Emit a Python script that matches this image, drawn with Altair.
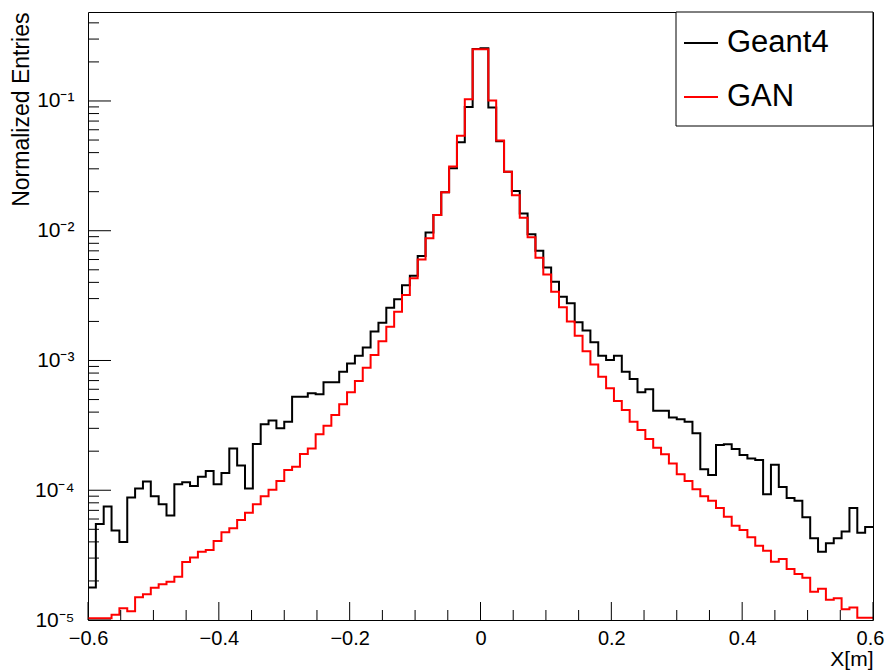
import altair as alt
import numpy as np
import pandas as pd

# ---------------- data ----------------
series_names = ["Geant4", "GAN"]
series_colors = ["#000000", "#ff0000"]

x_min, x_max, n_bins = -0.6, 0.6, 100

geant4 = [
    1.78e-5, 5.5e-5, 7.5e-5, 4.9e-5, 4.0e-5, 8.8e-5, 1.03e-4, 1.17e-4, 9.0e-5, 7.8e-5,
    6.4e-5, 1.11e-4, 1.15e-4, 1.08e-4, 1.27e-4, 1.41e-4, 1.11e-4, 1.36e-4, 2.1e-4, 1.55e-4,
    1.03e-4, 2.27e-4, 3.22e-4, 3.44e-4, 3.0e-4, 3.37e-4, 5.26e-4, 5.26e-4, 5.6e-4, 5.5e-4,
    6.8e-4, 6.8e-4, 8.2e-4, 9.5e-4, 1.09e-3, 1.26e-3, 1.67e-3, 1.95e-3, 2.55e-3, 2.96e-3,
    3.8e-3, 4.5e-3, 6.4e-3, 9.7e-3, 1.32e-2, 1.98e-2, 3.03e-2, 4.8e-2, 9.0e-2, 0.252,
    0.255, 8.9e-2, 4.9e-2, 2.85e-2, 2.02e-2, 1.36e-2, 9.4e-3, 7.0e-3, 5.2e-3, 4.05e-3,
    3.1e-3, 2.76e-3, 1.97e-3, 1.7e-3, 1.38e-3, 1.09e-3, 1.01e-3, 1.09e-3, 8.2e-4, 7.2e-4,
    5.7e-4, 6.0e-4, 4.1e-4, 4.1e-4, 3.63e-4, 3.52e-4, 3.37e-4, 2.75e-4, 1.45e-4, 1.31e-4,
    2.23e-4, 2.26e-4, 2.08e-4, 1.87e-4, 1.76e-4, 1.71e-4, 9.3e-5, 1.57e-4, 1.06e-4, 8.7e-5,
    8.3e-5, 6.2e-5, 4.27e-5, 3.36e-5, 3.9e-5, 4.27e-5, 4.8e-5, 7.3e-5, 4.7e-5, 5.2e-5,
]

gan = [
    1.03e-5, 1.03e-5, 1.03e-5, 1.1e-5, 1.23e-5, 1.17e-5, 1.5e-5, 1.58e-5, 1.77e-5, 1.89e-5,
    1.97e-5, 2.15e-5, 2.8e-5, 3.03e-5, 3.36e-5, 3.46e-5, 4.06e-5, 4.74e-5, 5.09e-5, 5.9e-5,
    6.7e-5, 7.8e-5, 9.0e-5, 1.01e-4, 1.18e-4, 1.43e-4, 1.52e-4, 1.9e-4, 2.1e-4, 2.7e-4,
    3.14e-4, 3.8e-4, 4.6e-4, 5.7e-4, 6.95e-4, 8.8e-4, 1.1e-3, 1.41e-3, 1.82e-3, 2.38e-3,
    3.2e-3, 4.3e-3, 6.0e-3, 8.75e-3, 1.32e-2, 1.98e-2, 3.12e-2, 5.4e-2, 0.103, 0.25,
    0.25, 0.101, 4.95e-2, 2.85e-2, 1.88e-2, 1.26e-2, 8.9e-3, 6.2e-3, 4.6e-3, 3.39e-3,
    2.57e-3, 2.0e-3, 1.55e-3, 1.18e-3, 9.3e-4, 7.5e-4, 6.1e-4, 4.87e-4, 4.15e-4, 3.37e-4,
    2.91e-4, 2.48e-4, 2.13e-4, 1.89e-4, 1.61e-4, 1.33e-4, 1.18e-4, 1.02e-4, 9.0e-5, 8.3e-5,
    7.3e-5, 6.25e-5, 5.33e-5, 4.94e-5, 4.34e-5, 3.74e-5, 3.42e-5, 2.81e-5, 2.95e-5, 2.47e-5,
    2.26e-5, 2.12e-5, 1.65e-5, 1.74e-5, 1.43e-5, 1.47e-5, 1.21e-5, 1.25e-5, 1.04e-5, 1.04e-5,
]

x_major_ticks = [-0.6, -0.4, -0.2, 0.0, 0.2, 0.4, 0.6]
x_minor_ticks = [-0.55, -0.5, -0.45, -0.35, -0.3, -0.25, -0.15, -0.1, -0.05,
                 0.05, 0.1, 0.15, 0.25, 0.3, 0.35, 0.45, 0.5, 0.55]
y_major_ticks = [1e-5, 1e-4, 1e-3, 1e-2, 1e-1]
y_minor_ticks = [k * 10.0 ** d for d in range(-5, 0) for k in range(2, 10) if k * 10.0 ** d < 0.48]

y_max = 0.485

# ---------------- table built from the arrays ----------------
edges = np.linspace(x_min, x_max, n_bins + 1)
rows = []
for name, vals in zip(series_names, [geant4, gan]):
    for i in range(n_bins):
        rows.append({"x": float(edges[i]), "y": vals[i], "series": name})
    rows.append({"x": float(edges[-1]), "y": vals[-1], "series": name})
df = pd.DataFrame(rows)

W, H = 785, 608
FONT = "Liberation Sans, Arial, sans-serif"

xscale = alt.Scale(domain=[x_min, x_max], nice=False, zero=False)
yscale = alt.Scale(type="log", domain=[1e-5, y_max], nice=False)

x_axis = alt.Axis(
    values=x_major_ticks,
    labelExpr="datum.value == 0 ? '0' : format(datum.value, '.1f')",
    domain=False, ticks=False, grid=False,
    labelFont=FONT, labelFontSize=20, labelColor="black", labelPadding=8,
    labelOffset=alt.condition("datum.value > 0.59", alt.value(-3), alt.value(0)),
    labelFlush=False, labelOverlap=False, labelBound=False,
    title="X[m]", titleFont=FONT, titleFontSize=21, titleFontWeight="normal",
    titleColor="black", titleAlign="right", titleBaseline="alphabetic",
    titleX=W, titleY=45,
)
y_axis = alt.Axis(
    values=y_major_ticks,
    labelExpr="'10' + ['\u207b\u2075','\u207b\u2074','\u207b\u00b3','\u207b\u00b2','\u207b\u00b9'][round(log(datum.value)/LN10) + 5]",
    domain=False, ticks=False, grid=False,
    labelFont=FONT, labelFontSize=21, labelColor="black", labelPadding=14,
    labelFlush=False, labelOverlap=False, labelBound=False,
    title="Normalized Entries", titleFont=FONT, titleFontSize=23,
    titleFontWeight="normal", titleColor="black", titleAngle=270,
    titleAlign="right", titleBaseline="alphabetic", titleX=-60, titleY=0,
)

color = alt.Color(
    "series:N",
    scale=alt.Scale(domain=series_names, range=series_colors),
    legend=alt.Legend(
        title=None, orient="none", legendX=595, legendY=13,
        symbolType="stroke", symbolSize=1156, symbolStrokeWidth=2,
        labelFont=FONT, labelFontSize=31, labelColor="black",
        labelOffset=8, rowPadding=21, padding=0,
    ),
)

base = alt.Chart(df)

lines = [
    base.transform_filter(alt.datum.series == name)
    .mark_line(interpolate="step-after", strokeWidth=2, clip=True)
    .encode(
        x=alt.X("x:Q", scale=xscale, axis=x_axis),
        y=alt.Y("y:Q", scale=yscale, axis=y_axis),
        color=color,
    )
    for name in series_names
]

legend_box = alt.Chart(pd.DataFrame({"a": [0]})).mark_rect(
    fill="white", stroke="black", strokeWidth=1
).encode(
    x=alt.value(588), x2=alt.value(W), y=alt.value(0), y2=alt.value(114)
)

x_major = alt.Chart(pd.DataFrame({"x": x_major_ticks})).mark_rule(color="black", strokeWidth=1).encode(
    x=alt.X("x:Q", scale=xscale, axis=x_axis), y=alt.value(H), y2=alt.value(H - 18)
)
x_minor = alt.Chart(pd.DataFrame({"x": x_minor_ticks})).mark_rule(color="black", strokeWidth=1).encode(
    x=alt.X("x:Q", scale=xscale, axis=x_axis), y=alt.value(H), y2=alt.value(H - 10)
)
y_major = alt.Chart(pd.DataFrame({"y": y_major_ticks})).mark_rule(color="black", strokeWidth=1).encode(
    y=alt.Y("y:Q", scale=yscale, axis=y_axis), x=alt.value(0), x2=alt.value(23)
)
y_minor = alt.Chart(pd.DataFrame({"y": y_minor_ticks})).mark_rule(color="black", strokeWidth=1).encode(
    y=alt.Y("y:Q", scale=yscale, axis=y_axis), x=alt.value(0), x2=alt.value(11)
)

chart = alt.layer(
    *lines, legend_box, x_major, x_minor, y_major, y_minor
).properties(
    width=W, height=H,
    autosize=alt.AutoSizeParams(type="none"),
    padding={"left": 88, "top": 12, "right": 14, "bottom": 50},
    background="white",
).configure_view(
    stroke="black", strokeWidth=1
)

chart.save("out.html", embed_options={"renderer": "svg", "actions": False})
